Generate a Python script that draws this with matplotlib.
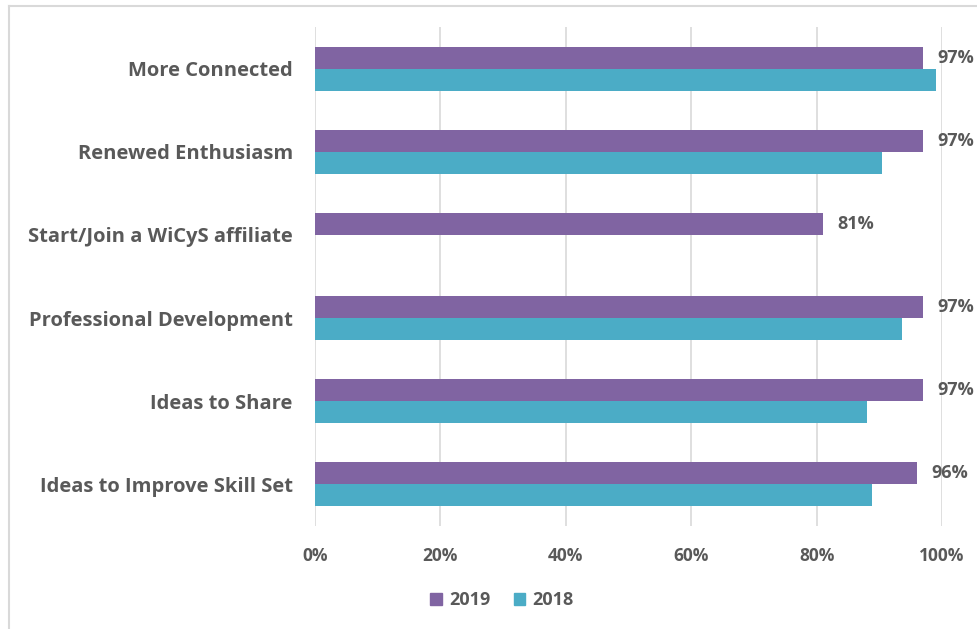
import numpy as np
import matplotlib.pyplot as plt
from matplotlib.lines import Line2D

categories = ["More Connected", "Renewed Enthusiasm", "Start/Join a WiCyS affiliate",
              "Professional Development", "Ideas to Share", "Ideas to Improve Skill Set"]
values_2019 = [97, 97, 81, 97, 97, 96]
values_2018 = [99, 90.4, np.nan, 93.7, 88, 88.9]

purple = "#8064A2"
teal = "#4BACC6"
text_gray = "#595959"

plt.rcParams['font.family'] = ['Open Sans', 'DejaVu Sans']
plt.rcParams['font.weight'] = 'bold'

fig = plt.figure(figsize=(9.77, 6.29), dpi=100)
ax = fig.add_axes([315 / 977, 1 - 526 / 629, (942 - 315) / 977, (526 - 27) / 629])

y = np.arange(len(categories))
h = 0.264
ax.barh(y - h / 2, values_2019, height=h, color=purple, label="2019", zorder=3)
ax.barh(y + h / 2, values_2018, height=h, color=teal, label="2018", zorder=3)

for yi, v in zip(y, values_2019):
    ax.text(v + 2.3, yi - h / 2, f"{v:.0f}%", va="center", ha="left",
            fontsize=13, fontweight="bold", color=text_gray)

ax.set_xlim(0, 100)
ax.set_ylim(len(categories) - 0.5, -0.5)
ax.set_xticks(range(0, 101, 20))
ax.set_xticklabels([f"{t}%" for t in range(0, 101, 20)])
ax.set_yticks(y)
ax.set_yticklabels(categories)
ax.tick_params(axis="y", length=0, pad=16, labelsize=14.5, labelcolor=text_gray)
ax.tick_params(axis="x", length=0, pad=15, labelsize=12.5, labelcolor=text_gray)
ax.grid(axis="x", color="#D9D9D9", linewidth=1.2, zorder=0)
for s in ax.spines.values():
    s.set_visible(False)

handles = [plt.Rectangle((0, 0), 1, 1, color=purple), plt.Rectangle((0, 0), 1, 1, color=teal)]
fig.legend(handles, ["2019", "2018"], loc="center", bbox_to_anchor=(502 / 977, 1 - 600 / 629),
           ncol=2, frameon=False, fontsize=13, handlelength=0.65, handleheight=0.65,
           handletextpad=0.4, columnspacing=1.3, labelcolor=text_gray)

# light frame on the top and left edge
fig.add_artist(Line2D([8.5 / 977, 8.5 / 977], [0, 1 - 5.5 / 629], color="#D9D9D9", linewidth=1.5))
fig.add_artist(Line2D([8.5 / 977, 1], [1 - 5.5 / 629, 1 - 5.5 / 629], color="#D9D9D9", linewidth=1.5))

fig.savefig("out.png", dpi=100)
